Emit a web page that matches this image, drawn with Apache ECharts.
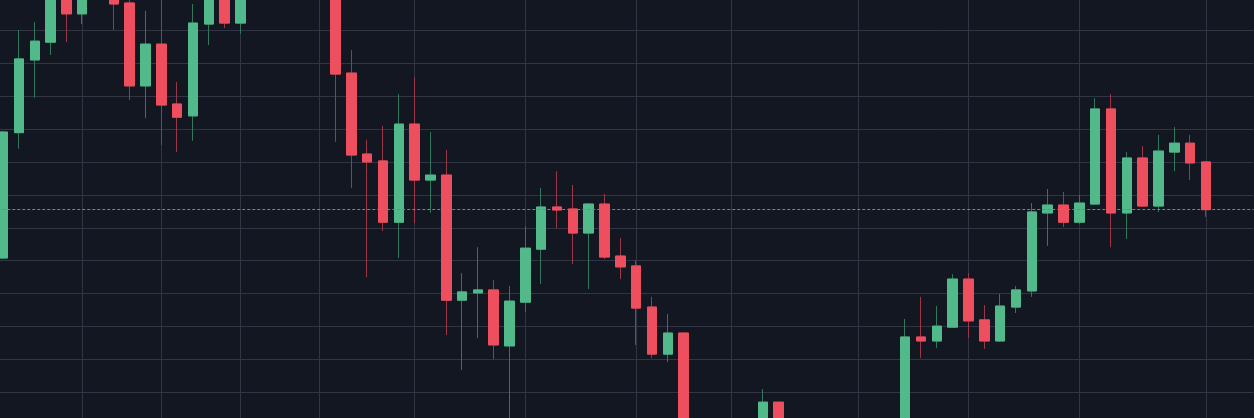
<!DOCTYPE html>
<html>
<head>
<meta charset="utf-8">
<title>Candles</title>
<script src="https://cdn.jsdelivr.net/npm/echarts@6/dist/echarts.min.js"></script>
<style>
	html, body { margin: 0; padding: 0; background: #131722; }
	#chart { width: 1254px; height: 418px; }
</style>
</head>
<body>
<div id="chart"></div>
<script>
// price values, one entry per candle
var opens = [50.8, 88.9, 111.0, 116.4, 133.8, 125.0, 132.8, 137.7, 128.3, 103.1,
	115.8, 97.6, 94.0, 121.9, 132.2, 122.2, 136.8, 142.9, 138.3, 145.9,
	139.8, 133.5, 107.0, 82.4, 80.3, 61.7, 91.5, 74.5, 76.0, 38.0,
	40.2, 41.1, 24.1, 37.4, 53.5, 66.3, 65.7, 58.4, 67.2, 51.4,
	48.4, 35.9, 21.6, 28.0, -12, -5, -14, -8, -4.5, 7.0,
	-4.5, -12, -20, -14, -9, -15, -8, -5.5, 26.8, 25.6,
	29.8, 44.4, 32.0, 25.6, 35.9, 40.8, 64.5, 66.9, 61.7, 67.2,
	96.1, 64.5, 81.2, 66.6, 83.0, 85.7, 80.0];
var closes = [89.1, 111.3, 116.7, 134.7, 125.0, 135.3, 138.3, 128.0, 103.1, 115.8,
	97.3, 93.6, 122.2, 132.8, 122.2, 136.8, 142.9, 138.3, 145.9, 139.8,
	133.8, 106.7, 82.1, 80.0, 61.7, 91.5, 74.5, 76.0, 38.0, 40.5,
	41.1, 24.4, 37.7, 53.8, 66.3, 65.4, 58.4, 67.2, 51.1, 48.1,
	35.6, 21.6, 28.0, -10.6, -5, -14, -8, -3, 7.0, -4.5,
	-12, -20, -14, -9, -15, -8, -5, 26.8, 25.6, 30.1,
	44.4, 31.7, 25.6, 36.2, 41.1, 64.8, 66.9, 61.7, 67.5, 96.1,
	64.5, 81.2, 66.6, 83.3, 85.7, 79.7, 65.5];
var lows = [50.5, 84.0, 99.5, 112.5, 116.4, 121.9, 130.4, 120.1, 98.8, 93.3,
	85.1, 83.0, 86.4, 115.5, 120.7, 118.9, 132.2, 135.3, 135.9, 136.8,
	131.0, 86.1, 72.1, 45.0, 59.0, 50.8, 61.4, 64.5, 27.4, 16.8,
	26.5, 20.1, -1.5, 34.4, 42.9, 59.9, 49.0, 41.4, 50.5, 44.4,
	24.4, 20.4, 19.2, -15.1, -18, -20, -22, -12, -7.5, -8,
	-16, -24, -25, -18, -19, -17, -11, -9, 20.4, 23.5,
	29.8, 26.5, 23.2, 25.3, 34.1, 39.0, 54.5, 60.2, 61.1, 67.2,
	54.1, 56.6, 66.6, 64.8, 77.2, 74.5, 63.3];
var highs = [89.4, 120.1, 122.5, 138.3, 136.8, 138.9, 141.4, 139.8, 131.6, 125.9,
	131.0, 104.3, 128.0, 135.3, 134.7, 139.8, 145.9, 147.4, 148.0, 149.0,
	142.9, 135.3, 114.0, 86.7, 90.9, 100.6, 105.8, 89.1, 83.6, 46.2,
	54.1, 44.1, 42.3, 60.5, 72.1, 77.2, 73.0, 67.5, 70.3, 56.9,
	50.2, 39.0, 33.8, 28.3, -2, -2, -4, -1.5, 11.0, 7.1,
	-2, -9, -10, -6, -5, -4, -2, 32.3, 39.0, 36.2,
	45.9, 46.2, 36.5, 39.9, 42.3, 67.5, 71.8, 70.9, 70.0, 99.4,
	100.6, 83.0, 84.8, 88.2, 90.6, 88.2, 80.3];

// one empty slot before the first visible candle, three after the last one
var leadSlots = 1;
var emptySlots = 3;
// candles where the vertical grid lines fall
var gridCandles = [5, 10, 15, 20, 26, 33, 40, 46, 54, 61, 68, 76];

var upColor = '#51b98a';
var downColor = '#ee4f5e';
var upWick = '#2f7859';
var downWick = '#9c3747';
var gridColor = '#323545';

var categories = [];
var full = [];
var bodies = [];
for (var i = -leadSlots; i < opens.length + emptySlots; i++) {
	categories.push('c' + i);
	if (i >= 0 && i < opens.length) {
		full.push([opens[i], closes[i], lows[i], highs[i]]);
		bodies.push([opens[i], closes[i], Math.min(opens[i], closes[i]), Math.max(opens[i], closes[i])]);
	} else {
		full.push('-');
		bodies.push('-');
	}
}
var lastClose = closes[closes.length - 1];

var step = 15.827;
var chart = echarts.init(document.getElementById('chart'));
chart.setOption({
	backgroundColor: '#131722',
	animation: false,
	grid: {
		left: 3.1 - step * leadSlots,
		width: step * (categories.length - 1),
		top: -2.6,
		height: 427.8,
		outerBoundsMode: 'none',
		containLabel: false
	},
	xAxis: {
		type: 'category',
		data: categories,
		boundaryGap: false,
		axisLine: { show: false },
		axisTick: { show: false },
		axisLabel: { show: false },
		splitLine: {
			show: true,
			interval: function(index) {
				return gridCandles.indexOf(index - leadSlots) >= 0;
			},
			lineStyle: { color: gridColor, width: 1 }
		}
	},
	yAxis: {
		type: 'value',
		min: 0,
		max: 130,
		interval: 10,
		axisLine: { show: false },
		axisTick: { show: false },
		axisLabel: { show: false },
		splitLine: {
			show: true,
			lineStyle: { color: gridColor, width: 1 }
		}
	},
	series: [{
		// wicks
		type: 'candlestick',
		data: full,
		barWidth: 10,
		clip: false,
		silent: true,
		itemStyle: {
			color: upColor,
			color0: downColor,
			borderColor: upWick,
			borderColor0: downWick,
			borderWidth: 1
		}
	}, {
		// bodies drawn on top
		type: 'candlestick',
		data: bodies,
		barWidth: 10,
		clip: false,
		silent: true,
		itemStyle: {
			color: upColor,
			color0: downColor,
			borderColor: upColor,
			borderColor0: downColor,
			borderWidth: 1
		},
		markLine: {
			silent: true,
			symbol: 'none',
			label: { show: false },
			lineStyle: { color: '#e8516a', width: 1, type: [3, 2] },
			data: [{ yAxis: lastClose }]
		}
	}]
});
</script>
</body>
</html>
